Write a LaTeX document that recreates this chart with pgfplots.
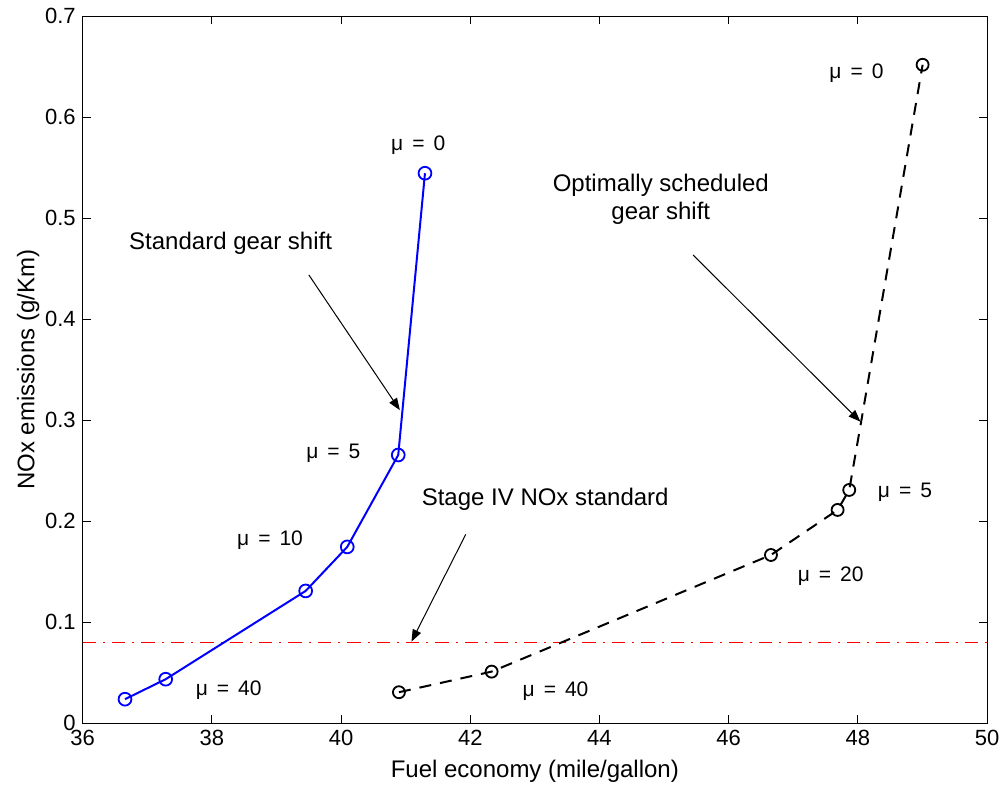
\documentclass[border=0pt]{standalone}
\usepackage{fontspec}
\setmainfont{Liberation Sans}
\usepackage{pgfplots}
\pgfplotsset{compat=1.18}
\usetikzlibrary{arrows.meta}

\newcommand{\mulab}[1]{μ\hspace{0.43em}=\hspace{0.43em}#1}

\begin{document}
\begin{tikzpicture}
\begin{axis}[
  name=ax,
  scale only axis,
  width=452.2pt, height=353.5pt,
  xmin=36, xmax=50, ymin=0, ymax=0.7,
  xtick={36,38,40,42,44,46,48,50},
  ytick={0,0.1,0.2,0.3,0.4,0.5,0.6,0.7},
  yticklabels={0,0.1,0.2,0.3,0.4,0.5,0.6,0.7},
  tick align=inside, tick pos=both,
  major tick length=4pt,
  tick style={black, line width=0.4pt},
  axis line style={line width=0.5pt},
  tick label style={font=\fontsize{11}{13}\selectfont},
  /pgf/number format/assume math mode=true,
  xlabel={Fuel economy (mile/gallon)},
  ylabel={NOx emissions (g/Km)},
  label style={font=\fontsize{12}{14}\selectfont},
  xlabel style={at={(axis description cs:0.5,-0.0676)}, anchor=center},
  ylabel style={at={(axis description cs:-0.0604,0.5)}, anchor=center},
  clip=false,
]
% Stage IV standard
\addplot[red, line width=0.5pt, dash pattern=on 6.7pt off 3.5pt on 1pt off 3.5pt] coordinates {(36,0.08) (50,0.08)};

% Standard gear shift
\addplot[blue, line width=1pt, mark=o, mark size=3.2pt, mark options={solid, line width=0.9pt}] coordinates {
  (36.655,0.0238) (37.285,0.0436) (39.452,0.131) (40.096,0.1746) (40.885,0.2656) (41.299,0.5446)
};

% Optimally scheduled gear shift
\addplot[black, line width=1pt, dash pattern=on 6pt off 4.5pt, mark=o, mark size=3pt, mark indices={1,2,3,4,5,7}, mark options={solid, line width=0.9pt}] coordinates {
  (40.896,0.0307) (42.331,0.0511) (46.655,0.1666) (47.687,0.2112) (47.867,0.2310) (48.05,0.298) (49.003,0.652)
};

% arrows
\draw[black, line width=0.5pt, -{Triangle[length=6pt,width=4.5pt]}] (axis cs:39.50,0.444) -- (axis cs:40.91,0.310);
\draw[black, line width=0.5pt, -{Triangle[length=6pt,width=4.5pt]}] (axis cs:45.45,0.4636) -- (axis cs:48.04,0.2986);
\draw[black, line width=0.5pt, -{Triangle[length=6pt,width=4.5pt]}] (axis cs:41.93,0.187) -- (axis cs:41.09,0.0808);

% texts
\node[font=\fontsize{12}{14}\selectfont] at (axis cs:38.29,0.4755) {Standard gear shift};
\node[font=\fontsize{12}{14}\selectfont, align=center, inner sep=0pt] at (axis cs:44.95,0.519) {Optimally scheduled\\gear shift};
\node[font=\fontsize{12}{14}\selectfont] at (axis cs:43.16,0.222) {Stage IV NOx standard};

\node[font=\fontsize{10.5}{12}\selectfont] at (axis cs:41.195,0.5726) {\mulab{0}};
\node[font=\fontsize{10.5}{12}\selectfont] at (axis cs:39.88,0.267) {\mulab{5}};
\node[font=\fontsize{10.5}{12}\selectfont] at (axis cs:38.90,0.181) {\mulab{10}};
\node[font=\fontsize{10.5}{12}\selectfont] at (axis cs:38.26,0.033) {\mulab{40}};
\node[font=\fontsize{10.5}{12}\selectfont] at (axis cs:43.32,0.0313) {\mulab{40}};
\node[font=\fontsize{10.5}{12}\selectfont] at (axis cs:47.58,0.146) {\mulab{20}};
\node[font=\fontsize{10.5}{12}\selectfont] at (axis cs:48.73,0.229) {\mulab{5}};
\node[font=\fontsize{10.5}{12}\selectfont] at (axis cs:47.98,0.6436) {\mulab{0}};
\end{axis}
\pgfresetboundingbox
\path[use as bounding box] ([xshift=-41.35pt,yshift=-33.35pt]ax.south west) rectangle ([xshift=9pt,yshift=8.15pt]ax.north east);
\end{tikzpicture}
\end{document}
